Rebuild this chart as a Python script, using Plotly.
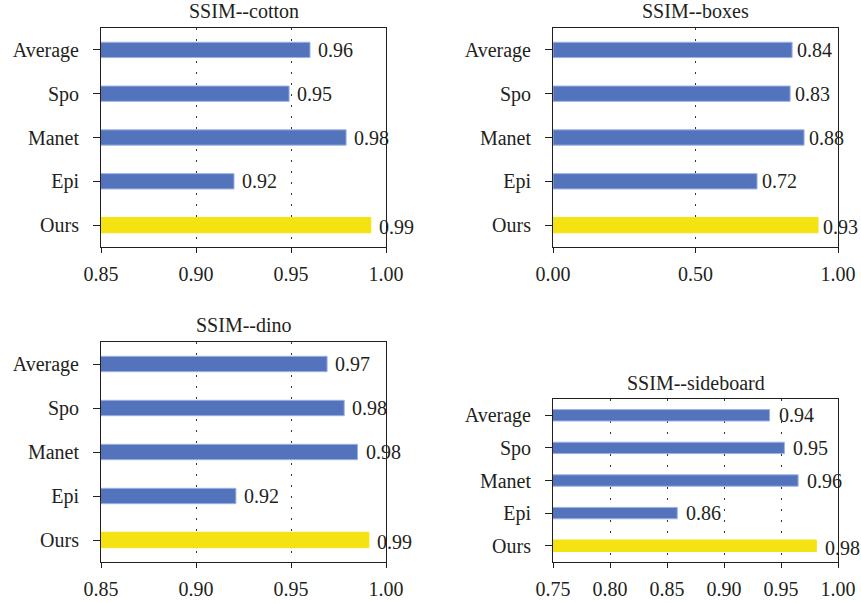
import plotly.graph_objects as go

categories = ["Average", "Spo", "Manet", "Epi", "Ours"]

titles = ["SSIM--cotton", "SSIM--boxes", "SSIM--dino", "SSIM--sideboard"]
cotton = [0.960, 0.949, 0.979, 0.920, 0.992]
boxes = [0.839, 0.832, 0.881, 0.716, 0.930]
dino = [0.969, 0.978, 0.985, 0.921, 0.991]
sideboard = [0.940, 0.953, 0.965, 0.859, 0.981]
series = [cotton, boxes, dino, sideboard]

x_ranges = [[0.85, 1.00], [0.0, 1.0], [0.85, 1.00], [0.75, 1.00]]
x_dticks = [0.05, 0.5, 0.05, 0.05]

W, H = 861, 603
# panel frames in pixels: (left, right, top, bottom)
frames = [(101, 386, 28, 247), (553, 838, 28, 247),
          (101, 386, 342, 562), (553, 838, 399, 562)]
title_y = [11, 11, 325, 383]
label_shift = [6, 3, 6, 7]

BLUE = "#5373BC"
YELLOW = "#F4E213"
FONT = "Liberation Serif"
TXT = "#231F20"
FS = 20

fig = go.Figure()
layout = dict(width=W, height=H, autosize=False,
              margin=dict(l=0, r=0, t=0, b=0, autoexpand=False),
              paper_bgcolor="white", plot_bgcolor="white",
              showlegend=False, font=dict(family=FONT, size=FS, color=TXT))
annotations = []
for i, (vals, fr) in enumerate(zip(series, frames)):
    n = "" if i == 0 else str(i + 1)
    xa, ya = "x" + n, "y" + n
    l, r, t, b = fr
    colors = [YELLOW if c == "Ours" else BLUE for c in categories]
    lines = ["#F4E213" if c == "Ours" else "#9DB2E2" for c in categories]
    fig.add_trace(go.Bar(x=vals, y=categories, orientation="h",
                         marker=dict(color=colors, line=dict(color=lines, width=1)),
                         width=0.35, xaxis=xa, yaxis=ya, hoverinfo="x+y"))
    layout["xaxis" + n] = dict(domain=[l / W, r / W], anchor=ya, automargin=False,
                               range=x_ranges[i], dtick=x_dticks[i],
                               tick0=x_ranges[i][0], tickformat=".2f",
                               showgrid=True, gridcolor="#333333", griddash="2px,9px",
                               gridwidth=1, zeroline=False,
                               showline=True, linecolor="#231F20", linewidth=1, mirror=True,
                               ticks="outside", ticklen=5, tickcolor="#231F20",
                               ticklabelstandoff=4,
                               tickfont=dict(family=FONT, size=FS, color=TXT),
                               fixedrange=True)
    layout["yaxis" + n] = dict(domain=[1 - b / H, 1 - t / H], anchor=xa, automargin=False,
                               type="category", range=[4.5, -0.5],
                               categoryorder="array", categoryarray=categories,
                               showgrid=False, zeroline=False,
                               showline=True, linecolor="#231F20", linewidth=1, mirror=True,
                               ticks="outside", ticklen=7, tickcolor="#231F20",
                               ticklabelstandoff=10,
                               tickfont=dict(family=FONT, size=FS, color=TXT),
                               fixedrange=True)
    for c, v in zip(categories, vals):
        annotations.append(dict(x=v, y=c, xref=xa, yref=ya, text=f"{v:.2f}",
                                showarrow=False, xanchor="left", yanchor="middle",
                                xshift=label_shift[i], yshift=-2 if c == "Ours" else 0,
                                font=dict(family=FONT, size=FS, color=TXT)))
    annotations.append(dict(x=(l + r) / 2 / W, y=1 - title_y[i] / H, xref="paper", yref="paper",
                            text=titles[i], showarrow=False, xanchor="center", yanchor="middle",
                            font=dict(family=FONT, size=FS, color=TXT)))
layout["annotations"] = annotations
fig.update_layout(**layout)
fig.write_html("out.html", config={"displayModeBar": False},
               post_script="document.body.style.margin='0';document.body.style.overflow='hidden';")
